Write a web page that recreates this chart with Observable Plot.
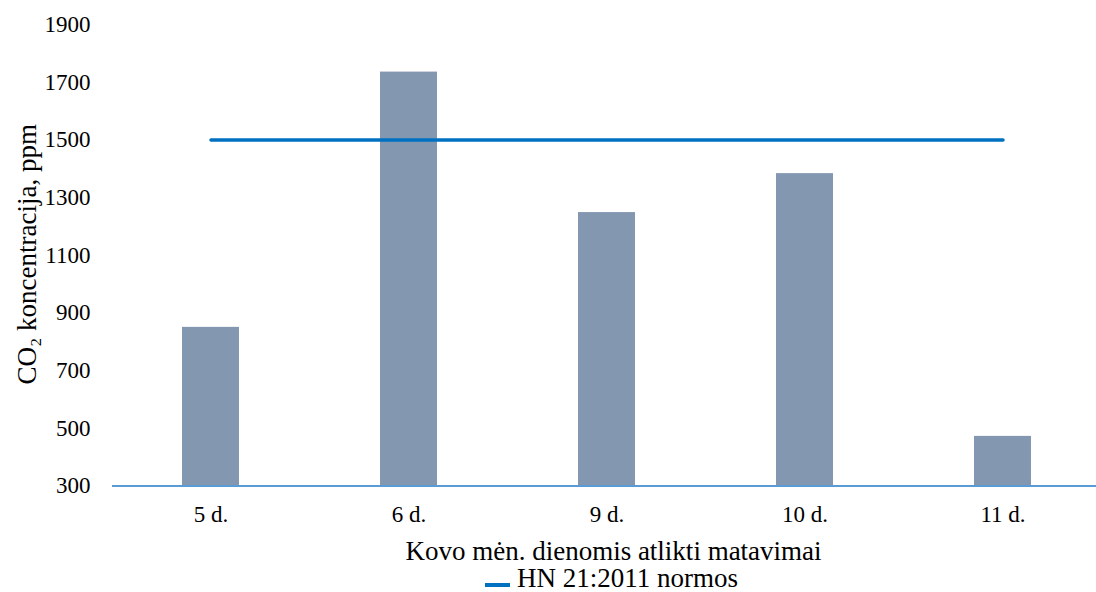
<!DOCTYPE html>
<html>
<head>
<meta charset="utf-8">
<script src="https://cdn.jsdelivr.net/npm/d3@7"></script>
<script src="https://cdn.jsdelivr.net/npm/@observablehq/plot@0.6"></script>
<style>
  html, body { margin: 0; padding: 0; background: #fff; }
  #chart { width: 1096px; height: 592px; overflow: hidden; font-family: "Liberation Serif", "Times New Roman", serif; }
  .legend { position: relative; height: 27px; font-family: "Liberation Serif", "Times New Roman", serif; font-size: 27px; line-height: 27px; color: #000; }
  .legend .sw { position: absolute; left: 485px; top: 18px; width: 25px; height: 4px; background: #0070C0; }
  .legend .tx { position: absolute; left: 517px; top: 0; white-space: nowrap; }
</style>
</head>
<body>
<div id="chart"></div>
<script>
// Measurement days (March) and CO2 concentration readings, ppm
const days = ["5 d.", "6 d.", "9 d.", "10 d.", "11 d."];
const co2 = [850, 1735, 1248, 1383, 472];
// HN 21:2011 limit value for each day
const norm = [1500, 1500, 1500, 1500, 1500];
const yTicks = [300, 500, 700, 900, 1100, 1300, 1500, 1700, 1900];

const yLabel = "CO₂ koncentracija, ppm";
const xLabel = "Kovo mėn. dienomis atlikti matavimai";
const legendLabel = "HN 21:2011 normos";

const rows = days.map((d, i) => ({day: d, co2: co2[i], norm: norm[i]}));

const font = "Liberation Serif, Times New Roman, serif";

const chart = Plot.plot({
  width: 1096,
  height: 565,
  marginTop: 24,
  marginLeft: 112,
  marginRight: 0,
  marginBottom: 79.5,
  style: {fontFamily: font, fontSize: "23px", color: "#000", background: "#fff", overflow: "hidden"},
  x: {domain: days, range: [111.4, 1102.6], paddingInner: 0.71, paddingOuter: 0.355},
  y: {domain: [300, 1900]},
  marks: [
    Plot.gridY(yTicks, {stroke: "#D9D9D9", strokeOpacity: 1, strokeWidth: 1.5, x1: 112, x2: 1096}),
    Plot.barY(rows, {x: "day", y1: 300, y2: "co2", fill: "#8497B0"}),
    Plot.ruleY([300], {stroke: "#5B9BD5", strokeWidth: 2}),
    Plot.line(rows, {x: "day", y: "norm", stroke: "#0070C0", strokeWidth: 3.5}),
    Plot.axisY(yTicks, {tickSize: 0, tickPadding: 22, fontSize: 23, tickFormat: d => String(d), label: null}),
    Plot.axisX({tickSize: 0, tickPadding: 20, fontSize: 23, label: null}),
    // axis titles
    Plot.text([yLabel], {frameAnchor: "left", rotate: -90, dx: -85.6, dy: -1, fontSize: 27, textAnchor: "middle", lineAnchor: "middle", fill: "#000"}),
    Plot.text([xLabel], {frameAnchor: "bottom", dx: 9, dy: 64.9, fontSize: 27, textAnchor: "middle", lineAnchor: "middle", fill: "#000"})
  ]
});

const root = document.getElementById("chart");
root.appendChild(chart);
const legend = document.createElement("div");
legend.className = "legend";
legend.innerHTML = '<span class="sw"></span><span class="tx"></span>';
legend.querySelector(".tx").textContent = legendLabel;
root.appendChild(legend);
</script>
</body>
</html>
